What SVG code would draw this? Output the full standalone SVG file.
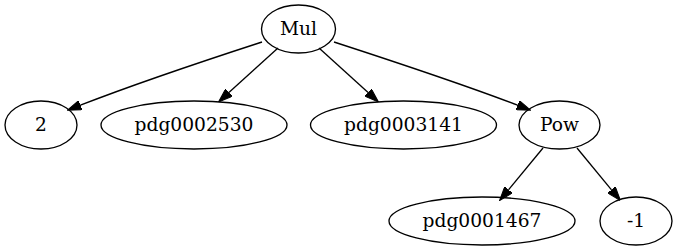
<svg xmlns="http://www.w3.org/2000/svg" width="677" height="251" viewBox="0 0 677 251">
<style>
.n ellipse{fill:none;stroke:#000;stroke-width:1.33}
.n text{font-family:"DejaVu Serif","Liberation Serif",serif;font-size:18.67px;text-anchor:middle;fill:#000}
.e path{fill:none;stroke:#000;stroke-width:1.33}
</style>
<defs>
<marker id="ah" markerUnits="userSpaceOnUse" markerWidth="14" markerHeight="10" viewBox="0 0 13.33 9.33" refX="0" refY="4.67" orient="auto">
<path d="M0,0 L13.33,4.67 L0,9.33 Z" fill="#000" stroke="#000" stroke-width="1"/>
</marker>
</defs>
<rect width="677" height="251" fill="#fff"/>
<g id="edges" class="e">
<path d="M262,42 C222,55 140,82 80.4,105.2" marker-end="url(#ah)"/>
<path d="M278,48 L228.9,92.6" marker-end="url(#ah)"/>
<path d="M319,48 L368.1,92.6" marker-end="url(#ah)"/>
<path d="M334,42 C374,55 457,82 517.6,105.2" marker-end="url(#ah)"/>
<path d="M543,148 L508.5,189.8" marker-end="url(#ah)"/>
<path d="M577,148 L611.5,189.8" marker-end="url(#ah)"/>
</g>
<g id="mul" class="n"><ellipse cx="298.5" cy="29" rx="37" ry="24"/><text x="298.5" y="34.7">Mul</text></g>
<g id="n2" class="n"><ellipse cx="41" cy="125" rx="36" ry="24"/><text x="41" y="130.7">2</text></g>
<g id="pdg0002530" class="n"><ellipse cx="194" cy="125" rx="93" ry="24"/><text x="194" y="130.7">pdg0002530</text></g>
<g id="pdg0003141" class="n"><ellipse cx="403.5" cy="125" rx="93" ry="24"/><text x="403.5" y="130.7">pdg0003141</text></g>
<g id="pow" class="n"><ellipse cx="559.5" cy="125" rx="40.5" ry="24"/><text x="559.5" y="130.7">Pow</text></g>
<g id="pdg0001467" class="n"><ellipse cx="482" cy="221" rx="93" ry="24"/><text x="482" y="226.7">pdg0001467</text></g>
<g id="neg1" class="n"><ellipse cx="636" cy="221" rx="36" ry="24"/><text x="636" y="226.7">-1</text></g>
</svg>
